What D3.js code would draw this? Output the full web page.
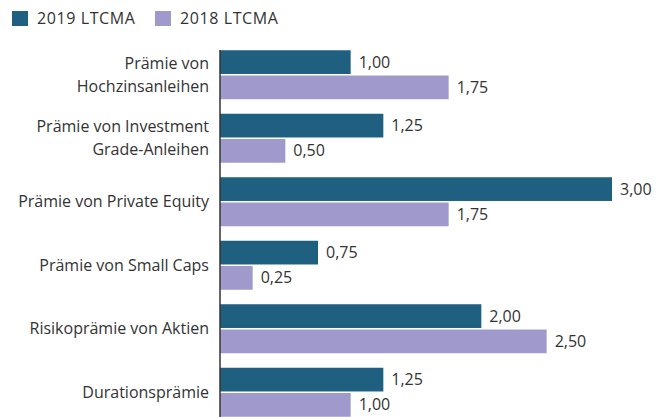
<!DOCTYPE html>
<html>
<head>
<meta charset="utf-8">
<script src="https://cdn.jsdelivr.net/npm/d3@7"></script>
<style>
  body { margin: 0; background: #fff; }
  svg { display: block; font-family: "Open Sans", sans-serif; }
</style>
</head>
<body>
<div id="chart"></div>
<script>
const categories = [
  ['Prämie von', 'Hochzinsanleihen'],
  ['Prämie von Investment', 'Grade-Anleihen'],
  ['Prämie von Private Equity'],
  ['Prämie von Small Caps'],
  ['Risikoprämie von Aktien'],
  ['Durationsprämie']
];
const series = ['2019 LTCMA', '2018 LTCMA'];
const values2019 = [1.00, 1.25, 3.00, 0.75, 2.00, 1.25];
const values2018 = [1.75, 0.50, 1.75, 0.25, 2.50, 1.00];
const colors = ['#1f5f7f', '#9f9acb'];

const width = 667, height = 417;
const x0 = 220;

const svg = d3.select('#chart').append('svg')
  .attr('width', width)
  .attr('height', height);

const x = d3.scaleLinear().domain([0, 3]).range([x0, 612]);
const y = d3.scaleBand()
  .domain(d3.range(categories.length))
  .range([43, 43 + 63.5 * categories.length])
  .paddingInner(14.5 / 63.5)
  .paddingOuter(7.25 / 63.5);
const sub = d3.scaleBand().domain([0, 1]).range([0, y.bandwidth()]).paddingInner(3 / 49);

const fmt = d => d3.format('.2f')(d).replace('.', ',');

// Legend
const legend = svg.append('g');
series.forEach((s, i) => {
  const lx = i === 0 ? 12 : 155;
  legend.append('rect').attr('x', lx).attr('y', 11).attr('width', 16).attr('height', 15).attr('fill', colors[i]);
  legend.append('text').attr('x', lx + 25).attr('y', 24)
    .attr('font-size', 16).attr('letter-spacing', 0.6).attr('fill', '#333').text(s);
});

// Bars
const data = categories.map((c, i) => ({ i, vals: [values2019[i], values2018[i]] }));
const grp = svg.append('g').selectAll('g').data(data).join('g')
  .attr('transform', d => `translate(0,${y(d.i)})`);

grp.selectAll('rect').data(d => d.vals).join('rect')
  .attr('x', x(0))
  .attr('y', (v, j) => sub(j))
  .attr('width', v => x(v) - x(0))
  .attr('height', sub.bandwidth())
  .attr('fill', (v, j) => colors[j]);

grp.selectAll('text.val').data(d => d.vals).join('text')
  .attr('class', 'val')
  .attr('x', v => x(v) + 8)
  .attr('y', (v, j) => sub(j) + sub.bandwidth() / 2)
  .attr('dy', '0.35em')
  .attr('font-size', 16)
  .attr('fill', '#333')
  .text(fmt);

// Category labels
grp.append('text')
  .attr('text-anchor', 'end')
  .attr('font-size', 16)
  .attr('fill', '#333')
  .each(function(d) {
    const lines = categories[d.i];
    const mid = y.bandwidth() / 2;
    lines.forEach((ln, k) => {
      d3.select(this).append('tspan')
        .attr('x', 209)
        .attr('y', mid + (k - (lines.length - 1) / 2) * 23)
        .attr('dy', '0.35em')
        .text(ln);
    });
  });

// Axis line
svg.append('line')
  .attr('x1', x0).attr('x2', x0)
  .attr('y1', 50).attr('y2', height)
  .attr('stroke', '#333').attr('stroke-width', 1.5);
</script>
</body>
</html>
